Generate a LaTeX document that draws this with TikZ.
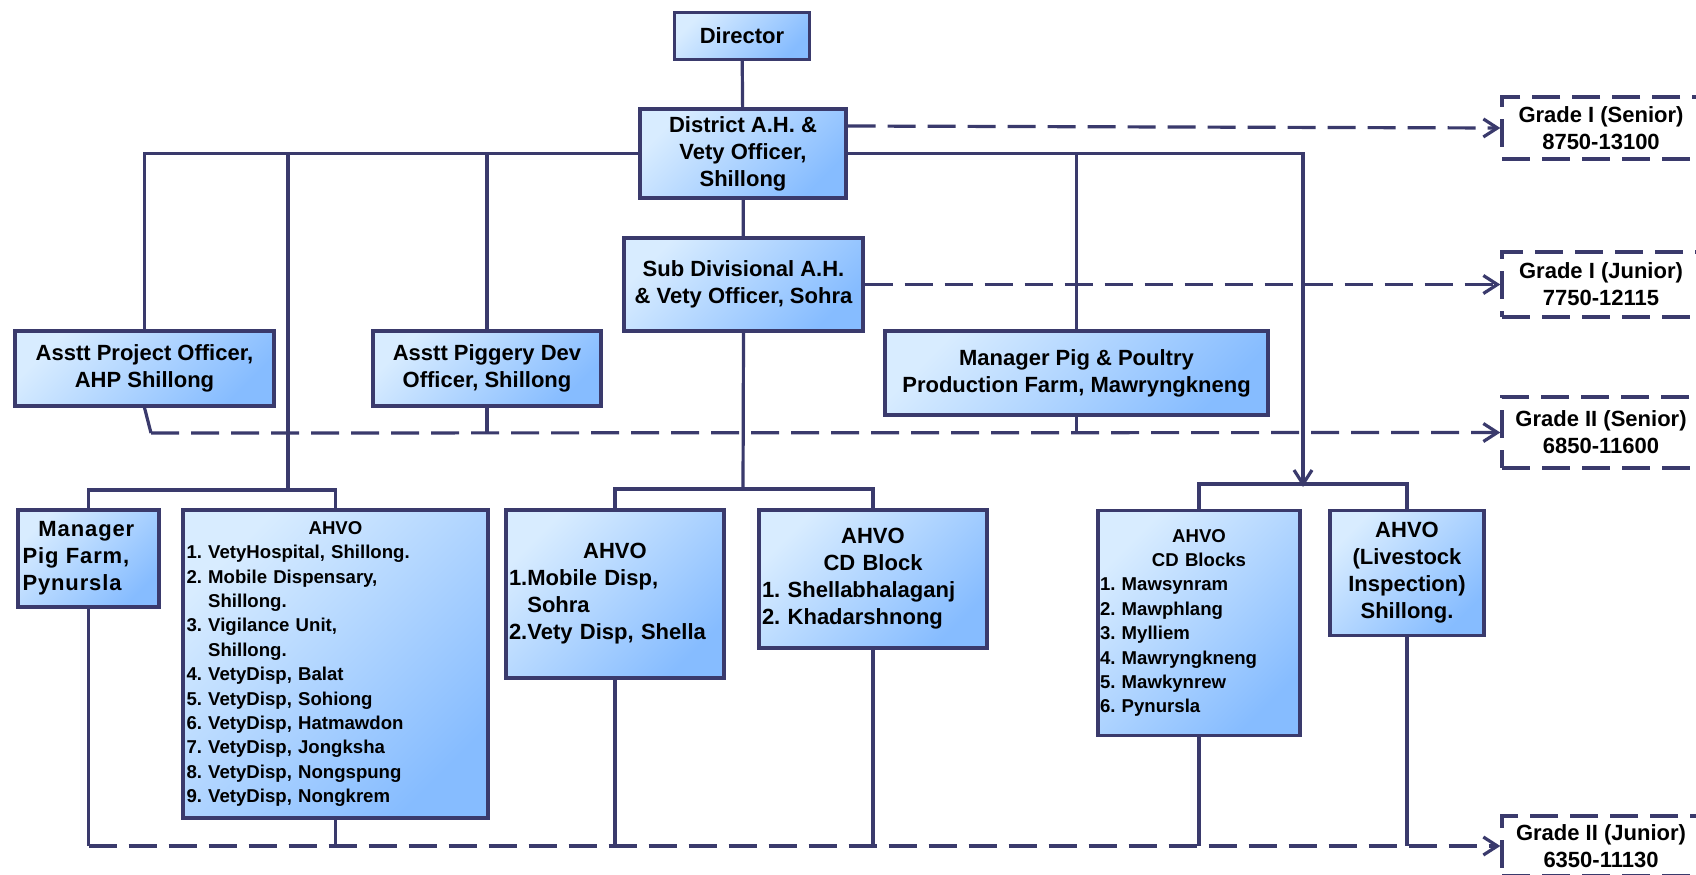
\documentclass[tikz,border=0pt]{standalone}
\usepackage{fontspec}
\setmainfont{Liberation Sans}
\newfontfamily\spaced{Liberation Sans}[LetterSpace=4]
\usetikzlibrary{arrows.meta}
\definecolor{navy}{HTML}{3A3A6C}
\definecolor{bl}{HTML}{D8ECFF}
\definecolor{bd}{HTML}{86BCFF}
\tikzset{
  box/.style={draw=navy, line width=1.7pt, top color=bl, bottom color=bd, shading angle=45,
    inner sep=0pt, align=center, font=\frenchspacing\bfseries\fontsize{11}{13.5}\selectfont},
  listfont/.style={font=\frenchspacing\bfseries\fontsize{9.3}{12.2}\selectfont},
  gradebox/.style={draw=navy, line width=1.7pt, dash pattern=on 14pt off 6pt, fill=white,
    inner sep=0pt, align=center, font=\bfseries\fontsize{11}{13.5}\selectfont},
  conn/.style={draw=navy, line width=1.6pt},
  dconn/.style={conn, dash pattern=on 14pt off 6pt},
  arr/.style={-{Straight Barb[length=7pt,width=9pt,line width=1.6pt]}}
}
\begin{document}
\begin{tikzpicture}[x=0.5pt,y=-0.5pt]
\clip (0,0) rectangle (1696,874);
\fill[white] (0,0) rectangle (1696,874);

% boxes
\node[box, minimum width=67.5pt, minimum height=23.5pt] (dir) at (742,36) {Director};
\node[box, minimum width=103pt, minimum height=44.5pt] (dist) at (743,153.5) {District A.H. \&\\Vety Officer,\\Shillong};
\node[box, minimum width=119.5pt, minimum height=46.5pt] (sub) at (743.5,284.5) {Sub Divisional A.H.\\\& Vety Officer, Sohra};
\node[box, minimum width=129.5pt, minimum height=37.5pt] (apo) at (144.5,368.5) {Asstt Project Officer,\\AHP Shillong};
\node[box, minimum width=114pt, minimum height=37.5pt] (pig) at (487,368.5) {Asstt Piggery Dev\\Officer, Shillong};
\node[box, minimum width=191.5pt, minimum height=42pt] (mpp) at (1076.5,373) {Manager Pig \& Poultry\\Production Farm, Mawryngkneng};
\node[box, minimum width=70.5pt, minimum height=48.5pt, text width=66pt, align=left] (mpf) at (88.5,558.5) {{\spaced\hspace*{8pt}Manager\\Pig Farm,\\Pynursla}};
\node[box, listfont, minimum width=152.5pt, minimum height=154pt, text width=149pt, align=left] (ah1) at (335.5,664)
 {\makebox[\linewidth]{AHVO}\\
  1. VetyHospital, Shillong.\\
  2. Mobile Dispensary,\\
  \phantom{2. }Shillong.\\
  3. Vigilance Unit,\\
  \phantom{3. }Shillong.\\
  4. VetyDisp, Balat\\
  5. VetyDisp, Sohiong\\
  6. VetyDisp, Hatmawdon\\
  7. VetyDisp, Jongksha\\
  8. VetyDisp, Nongspung\\
  9. VetyDisp, Nongkrem};
\node[box, minimum width=109pt, minimum height=84pt, text width=106pt, align=left] (ah2) at (615,594)
 {\makebox[\linewidth]{AHVO}\\
  1.Mobile Disp,\\
  \phantom{1.}Sohra\\
  2.Vety Disp, Shella};
\node[box, minimum width=114pt, minimum height=69pt, text width=111pt, align=left] (ah3) at (873,579)
 {\makebox[\linewidth]{AHVO}\\
  \makebox[\linewidth]{CD Block}\\
  1. Shellabhalaganj\\
  2. Khadarshnong};
\node[box, listfont, minimum width=101pt, minimum height=112.5pt, text width=99pt, align=left] (ah4) at (1199,623)
 {\makebox[\linewidth]{AHVO}\\
  \makebox[\linewidth]{CD Blocks}\\
  1. Mawsynram\\
  2. Mawphlang\\
  3. Mylliem\\
  4. Mawryngkneng\\
  5. Mawkynrew\\
  6. Pynursla};
\node[box, minimum width=77pt, minimum height=62.5pt] (ah5) at (1407,573) {AHVO\\(Livestock\\Inspection)\\Shillong.};

% grade boxes
\node[gradebox, minimum width=99pt, minimum height=31pt] (g1) at (1601,128) {Grade I (Senior)\\8750-13100};
\node[gradebox, minimum width=99pt, minimum height=32.5pt] (g2) at (1601,284.5) {Grade I (Junior)\\7750-12115};
\node[gradebox, minimum width=99pt, minimum height=35.5pt] (g3) at (1601,432.5) {Grade II (Senior)\\6850-11600};
\node[gradebox, minimum width=99pt, minimum height=30pt] (g4) at (1601,846) {Grade II (Junior)\\6350-11130};

% junctions
\coordinate (j1) at (288,490);
\coordinate (j2) at (743,489);
\coordinate (j3) at (1303,484);
\coordinate (k1) at (151,433);

% solid hierarchy
\draw[conn] (dir) -- (dist);
\draw[conn] (dist) -- (sub);
\draw[conn] (dist.west) -| (apo.north);
\draw[conn] (pig.north) -- (pig.north |- dist.west);
\draw[conn] (j1 |- dist.west) -- (j1);
\draw[conn] (mpf.north) |- (j1) -| (ah1.north);
\draw[conn, arr] (dist.east) -| ([yshift=-1.5pt]j3);
\draw[conn] (mpp.north) -- (mpp.north |- dist.east);
\draw[conn] (ah4.north) |- (j3) -| (ah5.north);
\draw[conn] (sub.south) -- (j2);
\draw[conn] (ah2.north) |- (j2) -| (ah3.north);

% grade links
\draw[dconn, arr] ([yshift=13.75pt]dist.east) -- (g1.west);
\draw[dconn, arr] (sub.east) -- (g2.west);
\draw[conn] (apo.south) -- (k1);
\draw[dconn, arr] (k1) -- (g3.west);
\draw[conn] (pig.south) -- (pig.south |- g3.west);
\draw[conn] (mpp.south) -- (mpp.south |- g3.west);
\draw[conn] (mpf.south) -- (mpf.south |- g4.west);
\draw[dconn, arr] (mpf.south |- g4.west) -- (g4.west);
\draw[conn] (ah1.south) -- (ah1.south |- g4.west);
\draw[conn] (ah2.south) -- (ah2.south |- g4.west);
\draw[conn] (ah3.south) -- (ah3.south |- g4.west);
\draw[conn] (ah4.south) -- (ah4.south |- g4.west);
\draw[conn] (ah5.south) -- (ah5.south |- g4.west);
\end{tikzpicture}
\end{document}
